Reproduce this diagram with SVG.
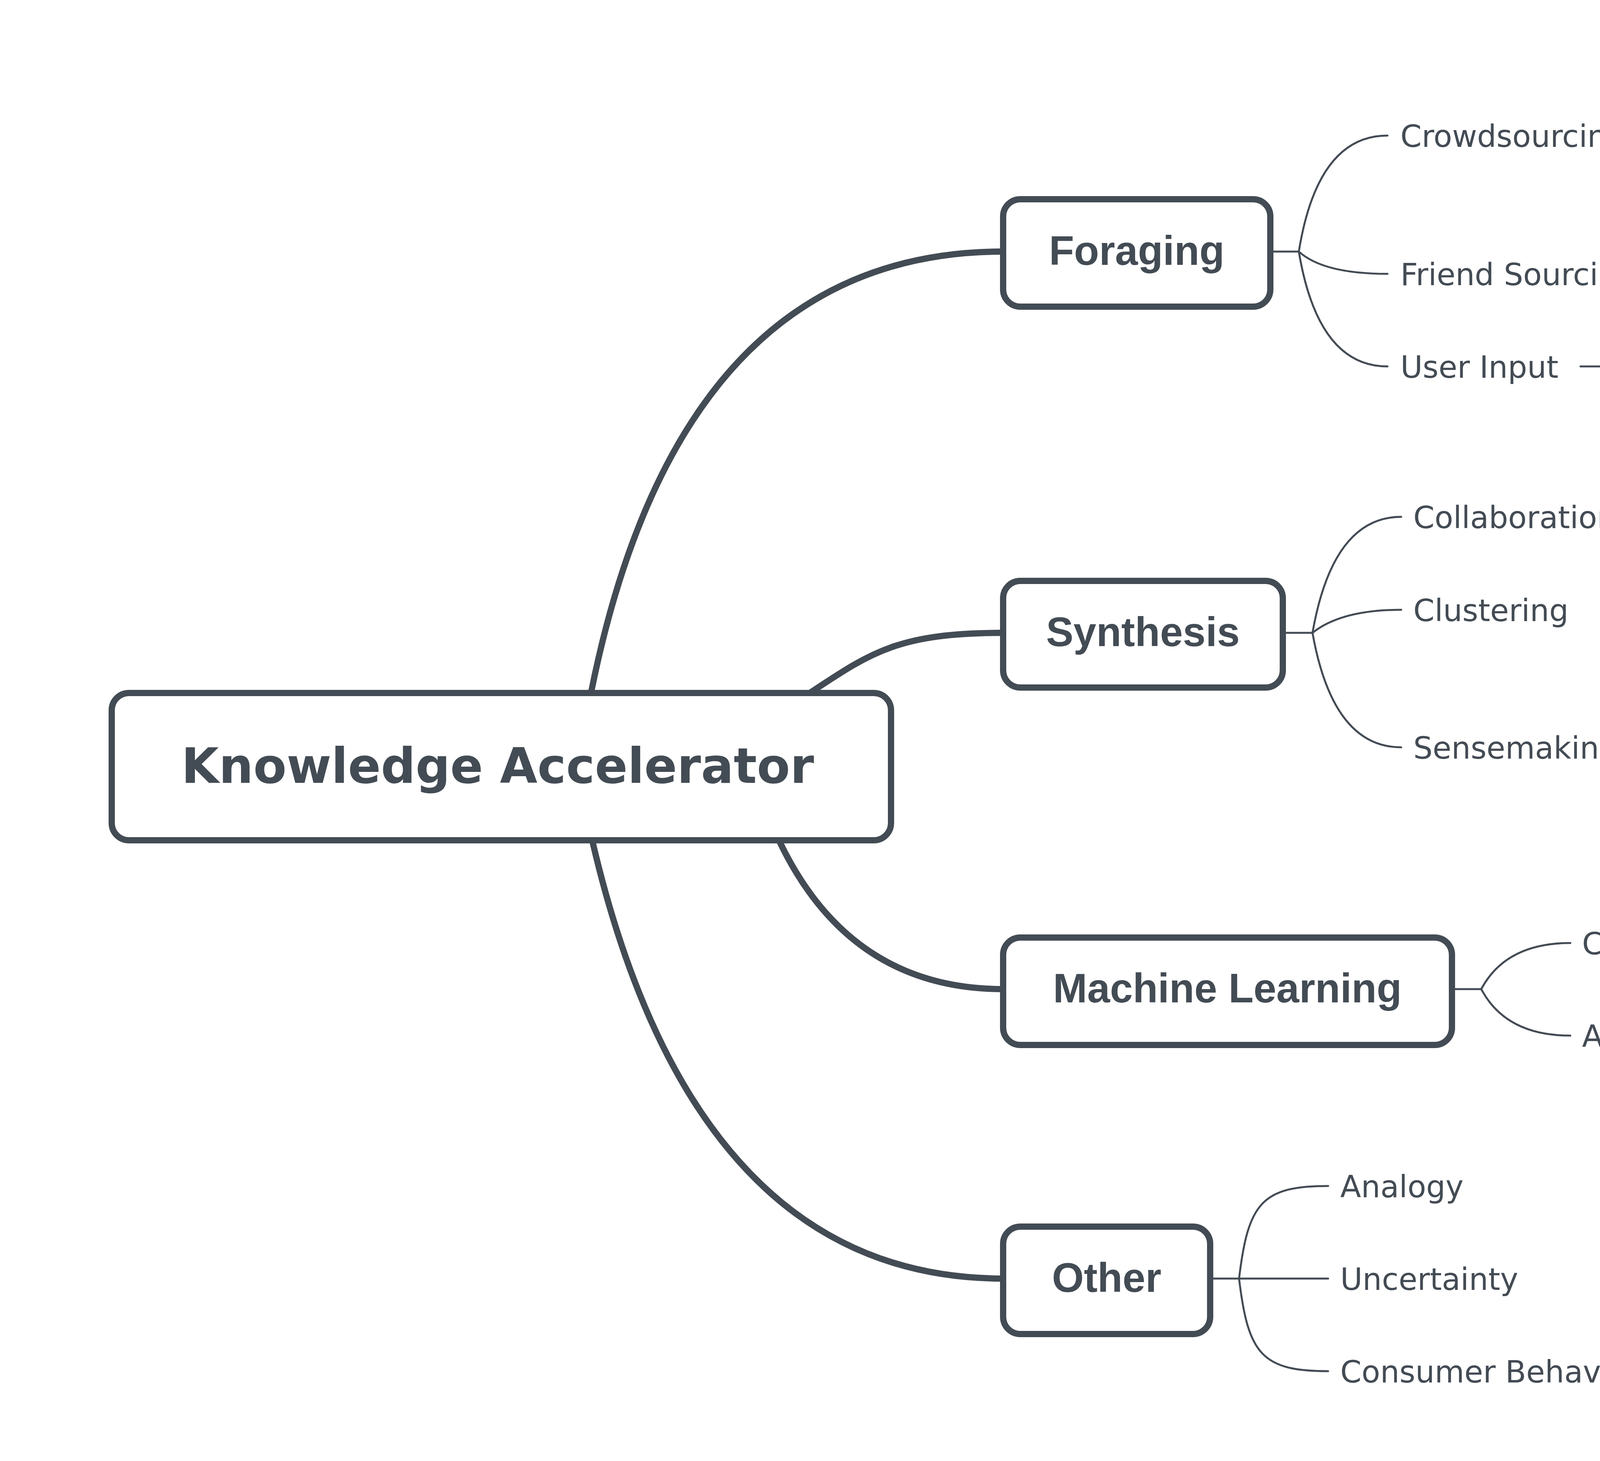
<svg xmlns="http://www.w3.org/2000/svg" width="5142" height="3740" viewBox="0 0 5142 3740">
  <style>
    .main { fill: none; stroke: #434B54; stroke-width: 16; }
    .thin { fill: none; stroke: #434B54; stroke-width: 5; stroke-linecap: round; }
    .box { fill: #FFFFFF; stroke: #434B54; stroke-width: 16; }
    .root-t { font-family: "DejaVu Sans", sans-serif; font-weight: bold; font-size: 124px; fill: #434B54; text-anchor: middle; }
    .mid-t { font-family: "Liberation Sans", Arial, sans-serif; font-weight: bold; font-size: 105px; fill: #434B54; text-anchor: middle; }
    .leaf-t { font-family: "DejaVu Sans", sans-serif; font-size: 78px; fill: #434B54; }
  </style>
  <rect width="5142" height="3740" fill="#FFFFFF"/>

  <g id="connectors">
    <path class="main" d="M1513,1774 Q1739,644 2568,644"/>
    <path class="main" d="M2073,1774 C2230,1670 2300,1620 2568,1620"/>
    <path class="main" d="M1994,2151 Q2175,2532 2568,2532"/>
    <path class="main" d="M1516,2151 Q1777,3273 2568,3273"/>

    <path class="thin" d="M3252,644 H3325"/>
    <path class="thin" d="M3325,644 Q3373,347 3552,347"/>
    <path class="thin" d="M3325,644 Q3388,701 3552,701"/>
    <path class="thin" d="M3325,644 Q3374,938 3552,938"/>
    <path class="thin" d="M4212,348 H4284"/>
    <path class="thin" d="M4366,233 H4327 A43,43 0 0 0 4284,276 V422 A43,43 0 0 0 4327,465 H4366"/>
    <path class="thin" d="M4046,938 H4203"/>

    <path class="thin" d="M3284,1620 H3360"/>
    <path class="thin" d="M3360,1620 Q3412,1323 3587,1323"/>
    <path class="thin" d="M3360,1620 Q3434,1561 3587,1561"/>
    <path class="thin" d="M3360,1620 Q3412,1913 3587,1913"/>
    <path class="thin" d="M4181,1913 H4256"/>
    <path class="thin" d="M4338,1798 H4299 A43,43 0 0 0 4256,1841 V1985 A43,43 0 0 0 4299,2028 H4338"/>

    <path class="thin" d="M3717,2532 H3792"/>
    <path class="thin" d="M3792,2532 Q3855,2414 4020,2414"/>
    <path class="thin" d="M3792,2532 Q3855,2651 4020,2651"/>

    <path class="thin" d="M3098,3273 H3400"/>
    <path class="thin" d="M3172,3273 C3195,3080 3230,3036 3400,3036"/>
    <path class="thin" d="M3172,3273 C3195,3466 3230,3510 3400,3510"/>
  </g>

  <g id="node-root">
    <rect class="box" x="286" y="1774" width="1995" height="377" rx="44" ry="44"/>
    <text class="root-t" x="1274" y="2004">Knowledge Accelerator</text>
  </g>

  <g id="node-foraging">
    <rect class="box" x="2568" y="510" width="684" height="275" rx="44" ry="44"/>
    <text class="mid-t" x="2910" y="678">Foraging</text>
  </g>
  <g id="node-synthesis">
    <rect class="box" x="2568" y="1487" width="716" height="273" rx="44" ry="44"/>
    <text class="mid-t" x="2926" y="1654">Synthesis</text>
  </g>
  <g id="node-ml">
    <rect class="box" x="2568" y="2400" width="1149" height="275" rx="44" ry="44"/>
    <text class="mid-t" x="3142" y="2566">Machine Learning</text>
  </g>
  <g id="node-other">
    <rect class="box" x="2568" y="3140" width="530" height="275" rx="44" ry="44"/>
    <text class="mid-t" x="2833" y="3307">Other</text>
  </g>

  <g id="node-crowdsourcing"><text class="leaf-t" x="3585" y="376">Crowdsourcing</text></g>
  <g id="node-mturk"><text class="leaf-t" x="4396" y="262">MTurk</text></g>
  <g id="node-micro"><text class="leaf-t" x="4396" y="494">Micro Volunteering</text></g>
  <g id="node-friend"><text class="leaf-t" x="3585" y="730">Friend Sourcing</text></g>
  <g id="node-userinput"><text class="leaf-t" x="3585" y="967">User Input</text></g>
  <g id="node-bento"><text class="leaf-t" x="4233" y="967">Bento browser</text></g>

  <g id="node-collaboration"><text class="leaf-t" x="3618" y="1352">Collaboration</text></g>
  <g id="node-clustering"><text class="leaf-t" x="3618" y="1590">Clustering</text></g>
  <g id="node-sensemaking"><text class="leaf-t" x="3618" y="1942">Sensemaking</text></g>
  <g id="node-distill"><text class="leaf-t" x="4371" y="1827">Distill</text></g>
  <g id="node-fusion"><text class="leaf-t" x="4371" y="2057">Fusion</text></g>

  <g id="node-chatbot"><text class="leaf-t" x="4050" y="2443">Chatbot</text></g>
  <g id="node-alloy"><text class="leaf-t" x="4050" y="2680">Alloy</text></g>

  <g id="node-analogy"><text class="leaf-t" x="3431" y="3065">Analogy</text></g>
  <g id="node-uncertainty"><text class="leaf-t" x="3431" y="3302">Uncertainty</text></g>
  <g id="node-consumer"><text class="leaf-t" x="3431" y="3539">Consumer Behavior</text></g>
</svg>
